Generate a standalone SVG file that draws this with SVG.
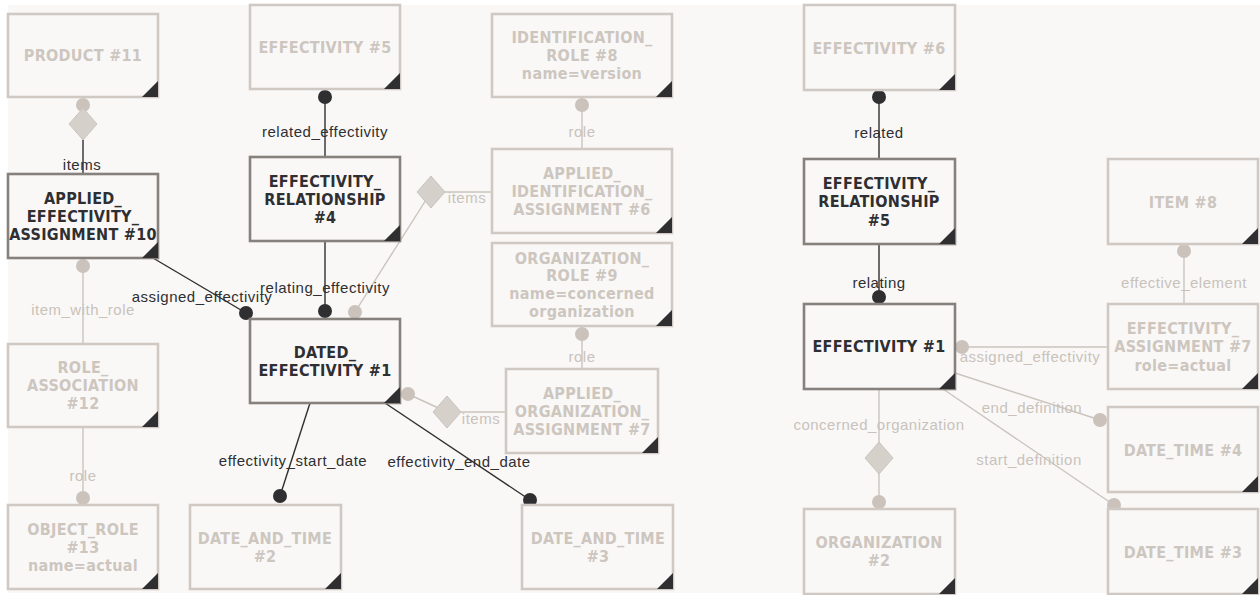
<svg xmlns="http://www.w3.org/2000/svg" width="1260" height="595" viewBox="0 0 1260 595">
<defs>
<style>
.bg{fill:#f9f8f7}
.box{fill:#f9f8f7;stroke-width:2.6}
.dim .box{stroke:#d0c9c3}
.act .box{stroke:#86817c}
.tri{fill:#2f2f31}
.nt{font-family:"DejaVu Sans Condensed","DejaVu Sans",Verdana,sans-serif;font-stretch:condensed;font-weight:bold;font-size:16px;letter-spacing:0.3px;text-anchor:middle}
.dim .nt{fill:#cdc6bf}
.act .nt{fill:#2f2f31}
.ld{stroke:#2f2f31;stroke-width:1.4;fill:none}
.lg{stroke:#cbc4bd;stroke-width:1.4;fill:none}
.cd{fill:#2f2f31}
.cg{fill:#cac2bb}
.dm{fill:#d6d0cb;stroke:#cbc5bf;stroke-width:1}
.el{font-family:"Liberation Sans",Arial,sans-serif;font-size:15px;letter-spacing:0.5px;text-anchor:middle}
.eld{fill:#2f2f31}
.elg{fill:#c9c2bb}
</style>
</defs>
<rect x="0" y="0" width="1260" height="595" fill="#ffffff"/>
<rect class="bg" x="8" y="5" width="1252" height="588"/>

<g id="connectors">
<line class="ld" x1="83" y1="124" x2="83" y2="174"/>
<circle class="cg" cx="83" cy="105" r="7"/>
<path class="dm" d="M83,108 L97,124 L83,140 L69,124 Z"/>
<text class="el eld" x="82" y="170">items</text>
<line class="ld" x1="325" y1="97" x2="325" y2="157"/>
<circle class="cd" cx="325" cy="97" r="7"/>
<text class="el eld" x="325" y="137">related_effectivity</text>
<line class="ld" x1="325" y1="241" x2="325" y2="311"/>
<circle class="cd" cx="325" cy="311" r="7"/>
<line class="ld" x1="153" y1="258" x2="246" y2="313"/>
<circle class="cd" cx="246" cy="313" r="7"/>
<line class="lg" x1="83" y1="266" x2="83" y2="344"/>
<circle class="cg" cx="83" cy="266" r="7"/>
<text class="el elg" x="83" y="315">item_with_role</text>
<line class="lg" x1="83" y1="427" x2="83" y2="498"/>
<circle class="cg" cx="83" cy="498" r="7"/>
<text class="el elg" x="83" y="481">role</text>
<line class="ld" x1="310" y1="403" x2="280" y2="496"/>
<circle class="cd" cx="280" cy="496" r="7"/>
<text class="el eld" x="293" y="466">effectivity_start_date</text>
<line class="ld" x1="385" y1="403" x2="530" y2="500"/>
<circle class="cd" cx="530" cy="500" r="7"/>
<text class="el eld" x="459" y="467">effectivity_end_date</text>
<line class="lg" x1="355" y1="312" x2="431" y2="192"/>
<line class="lg" x1="431" y1="192" x2="492" y2="192"/>
<circle class="cg" cx="355" cy="312" r="7"/>
<path class="dm" d="M431,176 L445,192 L431,208 L417,192 Z"/>
<text class="el elg" x="467" y="203">items</text>
<line class="lg" x1="582" y1="105" x2="582" y2="149"/>
<circle class="cg" cx="582" cy="105" r="7"/>
<text class="el elg" x="582" y="137">role</text>
<line class="lg" x1="582" y1="334" x2="582" y2="369"/>
<circle class="cg" cx="582" cy="334" r="7"/>
<text class="el elg" x="582" y="362">role</text>
<line class="lg" x1="408" y1="394" x2="447" y2="412"/>
<line class="lg" x1="447" y1="412" x2="506" y2="412"/>
<circle class="cg" cx="408" cy="394" r="7"/>
<path class="dm" d="M447,396 L461,412 L447,428 L433,412 Z"/>
<text class="el elg" x="481" y="424">items</text>
<text class="el eld" x="325" y="293">relating_effectivity</text>
<text class="el eld" x="202" y="302">assigned_effectivity</text>

<line class="ld" x1="879" y1="97" x2="879" y2="159"/>
<circle class="cd" cx="879" cy="97" r="7"/>
<text class="el eld" x="879" y="138">related</text>
<line class="ld" x1="879" y1="243" x2="879" y2="297"/>
<circle class="cd" cx="879" cy="297" r="7"/>
<text class="el eld" x="879" y="288">relating</text>
<line class="lg" x1="962" y1="347" x2="1108" y2="347"/>
<circle class="cg" cx="962" cy="347" r="7"/>
<text class="el elg" x="1030" y="362">assigned_effectivity</text>
<line class="lg" x1="1184" y1="251" x2="1184" y2="304"/>
<circle class="cg" cx="1184" cy="251" r="7"/>
<text class="el elg" x="1184" y="288">effective_element</text>
<line class="lg" x1="955" y1="373" x2="1100" y2="420"/>
<circle class="cg" cx="1100" cy="420" r="7"/>
<text class="el elg" x="1032" y="413">end_definition</text>
<line class="lg" x1="943" y1="389" x2="1114" y2="505"/>
<circle class="cg" cx="1114" cy="505" r="7"/>
<text class="el elg" x="1029" y="465">start_definition</text>
<line class="lg" x1="879" y1="389" x2="879" y2="502"/>
<path class="dm" d="M879,442 L893,458 L879,474 L865,458 Z"/>
<circle class="cg" cx="879" cy="502" r="7"/>
<text class="el elg" x="879" y="430">concerned_organization</text>
</g>

<g id="product11" class="dim">
<rect class="box" x="8" y="14" width="150" height="83"/>
<path class="tri" d="M158,81 L158,97 L142,97 Z"/>
<text class="nt" x="83" y="61">PRODUCT #11</text>
</g>
<g id="effectivity5" class="dim">
<rect class="box" x="250" y="5" width="150" height="84"/>
<path class="tri" d="M400,73 L400,89 L384,89 Z"/>
<text class="nt" x="325" y="53">EFFECTIVITY #5</text>
</g>
<g id="identification_role8" class="dim">
<rect class="box" x="492" y="14" width="180" height="83"/>
<path class="tri" d="M672,81 L672,97 L656,97 Z"/>
<text class="nt" x="582" y="43">IDENTIFICATION_</text>
<text class="nt" x="582" y="61">ROLE #8</text>
<text class="nt" x="582" y="79">name=version</text>
</g>
<g id="aea10" class="act">
<rect class="box" x="8" y="174" width="150" height="84"/>
<path class="tri" d="M158,242 L158,258 L142,258 Z"/>
<text class="nt" x="83" y="204">APPLIED_</text>
<text class="nt" x="83" y="222">EFFECTIVITY_</text>
<text class="nt" x="83" y="240">ASSIGNMENT #10</text>
</g>
<g id="er4" class="act">
<rect class="box" x="250" y="157" width="150" height="84"/>
<path class="tri" d="M400,225 L400,241 L384,241 Z"/>
<text class="nt" x="325" y="187">EFFECTIVITY_</text>
<text class="nt" x="325" y="205">RELATIONSHIP</text>
<text class="nt" x="325" y="223">#4</text>
</g>
<g id="aia6" class="dim">
<rect class="box" x="492" y="149" width="180" height="84"/>
<path class="tri" d="M672,217 L672,233 L656,233 Z"/>
<text class="nt" x="582" y="179">APPLIED_</text>
<text class="nt" x="582" y="197">IDENTIFICATION_</text>
<text class="nt" x="582" y="215">ASSIGNMENT #6</text>
</g>
<g id="org_role9" class="dim">
<rect class="box" x="492" y="243" width="180" height="83"/>
<path class="tri" d="M672,310 L672,326 L656,326 Z"/>
<text class="nt" x="582" y="264">ORGANIZATION_</text>
<text class="nt" x="582" y="281">ROLE #9</text>
<text class="nt" x="582" y="299">name=concerned</text>
<text class="nt" x="582" y="317">organization</text>
</g>
<g id="dated1" class="act">
<rect class="box" x="250" y="319" width="150" height="84"/>
<path class="tri" d="M400,387 L400,403 L384,403 Z"/>
<text class="nt" x="325" y="358">DATED_</text>
<text class="nt" x="325" y="376">EFFECTIVITY #1</text>
</g>
<g id="aoa7" class="dim">
<rect class="box" x="506" y="369" width="152" height="84"/>
<path class="tri" d="M658,437 L658,453 L642,453 Z"/>
<text class="nt" x="582" y="399">APPLIED_</text>
<text class="nt" x="582" y="417">ORGANIZATION_</text>
<text class="nt" x="582" y="435">ASSIGNMENT #7</text>
</g>
<g id="role_assoc12" class="dim">
<rect class="box" x="8" y="344" width="150" height="83"/>
<path class="tri" d="M158,411 L158,427 L142,427 Z"/>
<text class="nt" x="83" y="373">ROLE_</text>
<text class="nt" x="83" y="391">ASSOCIATION</text>
<text class="nt" x="83" y="409">#12</text>
</g>
<g id="object_role13" class="dim">
<rect class="box" x="8" y="505" width="150" height="84"/>
<path class="tri" d="M158,573 L158,589 L142,589 Z"/>
<text class="nt" x="83" y="535">OBJECT_ROLE</text>
<text class="nt" x="83" y="553">#13</text>
<text class="nt" x="83" y="571">name=actual</text>
</g>
<g id="date_and_time2" class="dim">
<rect class="box" x="190" y="505" width="151" height="84"/>
<path class="tri" d="M341,573 L341,589 L325,589 Z"/>
<text class="nt" x="265" y="544">DATE_AND_TIME</text>
<text class="nt" x="265" y="562">#2</text>
</g>
<g id="date_and_time3" class="dim">
<rect class="box" x="522" y="505" width="151" height="84"/>
<path class="tri" d="M673,573 L673,589 L657,589 Z"/>
<text class="nt" x="598" y="544">DATE_AND_TIME</text>
<text class="nt" x="598" y="562">#3</text>
</g>

<g id="effectivity6" class="dim">
<rect class="box" x="804" y="5" width="151" height="85"/>
<path class="tri" d="M955,74 L955,90 L939,90 Z"/>
<text class="nt" x="879" y="54">EFFECTIVITY #6</text>
</g>
<g id="er5" class="act">
<rect class="box" x="804" y="159" width="151" height="85"/>
<path class="tri" d="M955,228 L955,244 L939,244 Z"/>
<text class="nt" x="879" y="189">EFFECTIVITY_</text>
<text class="nt" x="879" y="207">RELATIONSHIP</text>
<text class="nt" x="879" y="226">#5</text>
</g>
<g id="item8" class="dim">
<rect class="box" x="1108" y="159" width="150" height="85"/>
<path class="tri" d="M1258,228 L1258,244 L1242,244 Z"/>
<text class="nt" x="1183" y="208">ITEM #8</text>
</g>
<g id="effectivity1" class="act">
<rect class="box" x="804" y="304" width="151" height="85"/>
<path class="tri" d="M955,373 L955,389 L939,389 Z"/>
<text class="nt" x="879" y="352">EFFECTIVITY #1</text>
</g>
<g id="effectivity_assignment7" class="dim">
<rect class="box" x="1108" y="304" width="150" height="85"/>
<path class="tri" d="M1258,373 L1258,389 L1242,389 Z"/>
<text class="nt" x="1183" y="334">EFFECTIVITY_</text>
<text class="nt" x="1183" y="352">ASSIGNMENT #7</text>
<text class="nt" x="1183" y="371">role=actual</text>
</g>
<g id="date_time4" class="dim">
<rect class="box" x="1108" y="407" width="150" height="85"/>
<path class="tri" d="M1258,476 L1258,492 L1242,492 Z"/>
<text class="nt" x="1183" y="456">DATE_TIME #4</text>
</g>
<g id="organization2" class="dim">
<rect class="box" x="804" y="509" width="151" height="85"/>
<path class="tri" d="M955,578 L955,594 L939,594 Z"/>
<text class="nt" x="879" y="548">ORGANIZATION</text>
<text class="nt" x="879" y="566">#2</text>
</g>
<g id="date_time3" class="dim">
<rect class="box" x="1108" y="509" width="150" height="85"/>
<path class="tri" d="M1258,578 L1258,594 L1242,594 Z"/>
<text class="nt" x="1183" y="558">DATE_TIME #3</text>
</g>
</svg>
